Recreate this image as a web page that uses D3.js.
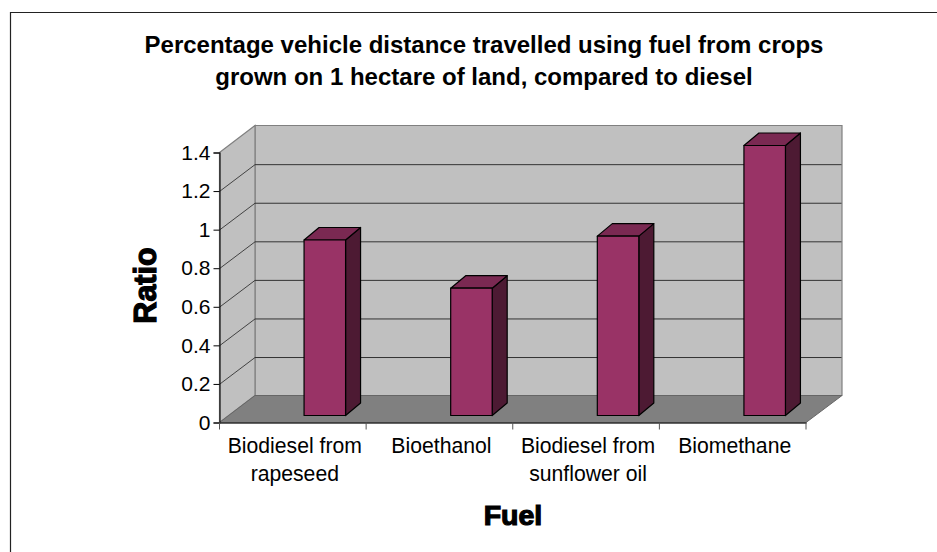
<!DOCTYPE html>
<html>
<head>
<meta charset="utf-8">
<script src="https://cdn.jsdelivr.net/npm/d3@7"></script>
<style>
  html, body { margin: 0; padding: 0; background: #fff; }
  svg { display: block; }
  text { font-family: "Liberation Sans", Arial, sans-serif; fill: #000; }
</style>
</head>
<body>
<div id="vis"></div>
<script>
// chart data
let categories = ["Biodiesel from rapeseed", "Bioethanol", "Biodiesel from sunflower oil", "Biomethane"];
let categoryLines = [["Biodiesel from", "rapeseed"], ["Bioethanol"], ["Biodiesel from", "sunflower oil"], ["Biomethane"]];
let ratios = [0.91, 0.66, 0.93, 1.4];
let yTicks = [0, 0.2, 0.4, 0.6, 0.8, 1, 1.2, 1.4];
let titleLines = ["Percentage vehicle distance travelled using fuel from crops", "grown on 1 hectare of land, compared to diesel"];

let width = 937, height = 552;

// front plane of the plot box, and how far the back wall is shifted
let plot = { left: 219.5, right: 806, top: 152.5, bottom: 422.5 };
let depth = { x: 35.5, y: -27 };
// bars stand part way into the box
let bar = { width: 41.5, shiftX: 32, shiftY: -7, dx: 15, dy: -12.5 };

let svg = d3.select("#vis").append("svg")
  .attr("width", width)
  .attr("height", height);

// outer frame, only top and left show in the window
svg.append("path")
  .attr("d", "M10.5,552V12.5H937")
  .attr("fill", "none")
  .attr("stroke", "#222")
  .attr("stroke-width", 1.2);

let x = d3.scaleBand().domain(categories).range([plot.left, plot.right]);
let y = d3.scaleLinear().domain([0, 1.4]).range([plot.bottom, plot.top]);

let poly = pts => pts.map(p => p.join(",")).join(" ");

// back wall
svg.append("polygon")
  .attr("points", poly([
    [plot.left + depth.x, plot.top + depth.y],
    [plot.right + depth.x + 0.5, plot.top + depth.y],
    [plot.right + depth.x + 0.5, plot.bottom + depth.y],
    [plot.left + depth.x, plot.bottom + depth.y]
  ]))
  .attr("fill", "#c0c0c0")
  .attr("stroke", "#808080")
  .attr("stroke-width", 1.2);

// side wall
svg.append("polygon")
  .attr("points", poly([
    [plot.left, plot.top],
    [plot.left + depth.x, plot.top + depth.y],
    [plot.left + depth.x, plot.bottom + depth.y],
    [plot.left, plot.bottom]
  ]))
  .attr("fill", "#c0c0c0")
  .attr("stroke", "#808080")
  .attr("stroke-width", 1.2);

// floor
svg.append("polygon")
  .attr("points", poly([
    [plot.left, plot.bottom],
    [plot.left + depth.x, plot.bottom + depth.y],
    [plot.right + depth.x + 0.5, plot.bottom + depth.y],
    [plot.right, plot.bottom]
  ]))
  .attr("fill", "#808080")
  .attr("stroke", "#666")
  .attr("stroke-width", 1);

// gridlines on the two walls
let grid = yTicks.filter(d => d > 0 && d < 1.4);
svg.append("g").selectAll("line.back")
  .data(grid)
  .join("line")
  .attr("x1", plot.left + depth.x)
  .attr("x2", plot.right + depth.x)
  .attr("y1", d => y(d) + depth.y + 0.6)
  .attr("y2", d => y(d) + depth.y + 0.6)
  .attr("stroke", "#333")
  .attr("stroke-width", 1);

svg.append("g").selectAll("line.side")
  .data(grid)
  .join("line")
  .attr("x1", plot.left)
  .attr("x2", plot.left + depth.x)
  .attr("y1", d => y(d) + 0.4)
  .attr("y2", d => y(d) + depth.y + 0.6)
  .attr("stroke", "#222")
  .attr("stroke-width", 0.8);

// axes
let yAxis = d3.axisLeft(y).tickValues(yTicks).tickFormat(d => d).tickSize(6).tickPadding(3);
let yG = svg.append("g").attr("transform", `translate(${plot.left},0)`).call(yAxis);
yG.select(".domain").attr("stroke", "#111").attr("stroke-width", 1.2);
yG.selectAll("text").attr("font-size", 21).attr("font-family", '"Liberation Sans", Arial, sans-serif');

let xAxis = d3.axisBottom(x).tickValues([]).tickSize(0);
let xG = svg.append("g").attr("transform", `translate(0,${plot.bottom})`).call(xAxis);
xG.select(".domain").attr("stroke", "#333").attr("stroke-width", 1.6);

// ticks between the categories
svg.append("g").selectAll("line")
  .data(d3.range(categories.length + 1))
  .join("line")
  .attr("x1", i => plot.left + i * x.bandwidth())
  .attr("x2", i => plot.left + i * x.bandwidth())
  .attr("y1", plot.bottom)
  .attr("y2", plot.bottom + 7)
  .attr("stroke", "#555");

// bars: side, top, front
let bars = svg.append("g").selectAll("g")
  .data(categories.map((c, i) => ({ name: c, value: ratios[i] })))
  .join("g")
  .attr("stroke", "#000")
  .attr("stroke-width", 1.2)
  .attr("stroke-linejoin", "round");

let x0 = d => x(d.name) + x.bandwidth() / 2 + bar.shiftX - bar.width / 2;
let yBase = y(0) + bar.shiftY;
let yTop = d => yBase - (y(0) - y(d.value));

bars.append("polygon")
  .attr("fill", "#4d1a33")
  .attr("points", d => poly([
    [x0(d) + bar.width, yTop(d)],
    [x0(d) + bar.width + bar.dx, yTop(d) + bar.dy],
    [x0(d) + bar.width + bar.dx, yBase + bar.dy],
    [x0(d) + bar.width, yBase]
  ]));

bars.append("polygon")
  .attr("fill", "#7a2952")
  .attr("points", d => poly([
    [x0(d), yTop(d)],
    [x0(d) + bar.dx, yTop(d) + bar.dy],
    [x0(d) + bar.width + bar.dx, yTop(d) + bar.dy],
    [x0(d) + bar.width, yTop(d)]
  ]));

bars.append("rect")
  .attr("fill", "#993366")
  .attr("x", x0)
  .attr("y", yTop)
  .attr("width", bar.width)
  .attr("height", d => yBase - yTop(d));

// category labels
let labels = svg.append("g").selectAll("text")
  .data(categories)
  .join("text")
  .attr("text-anchor", "middle")
  .attr("font-size", 21.2);
labels.selectAll("tspan")
  .data((d, i) => categoryLines[i].map(t => ({ t: t, c: d })))
  .join("tspan")
  .attr("x", d => x(d.c) + x.bandwidth() / 2 + 2)
  .attr("y", (d, i) => 453 + i * 28)
  .text(d => d.t);

// titles
svg.append("g").selectAll("text")
  .data(titleLines)
  .join("text")
  .attr("x", 484)
  .attr("y", (d, i) => 53 + i * 32)
  .attr("text-anchor", "middle")
  .attr("font-size", 24)
  .attr("font-weight", "bold")
  .text(d => d);

// axis titles are heavier than plain bold in the original
svg.append("text")
  .attr("x", 513)
  .attr("y", 525)
  .attr("text-anchor", "middle")
  .attr("font-size", 28.5)
  .attr("font-weight", "bold")
  .attr("stroke", "#000")
  .attr("stroke-width", 1.2)
  .text("Fuel");

svg.append("text")
  .attr("transform", "translate(156,285.5) rotate(-90)")
  .attr("text-anchor", "middle")
  .attr("font-size", 30.5)
  .attr("font-weight", "bold")
  .attr("stroke", "#000")
  .attr("stroke-width", 1.2)
  .text("Ratio");
</script>
</body>
</html>
